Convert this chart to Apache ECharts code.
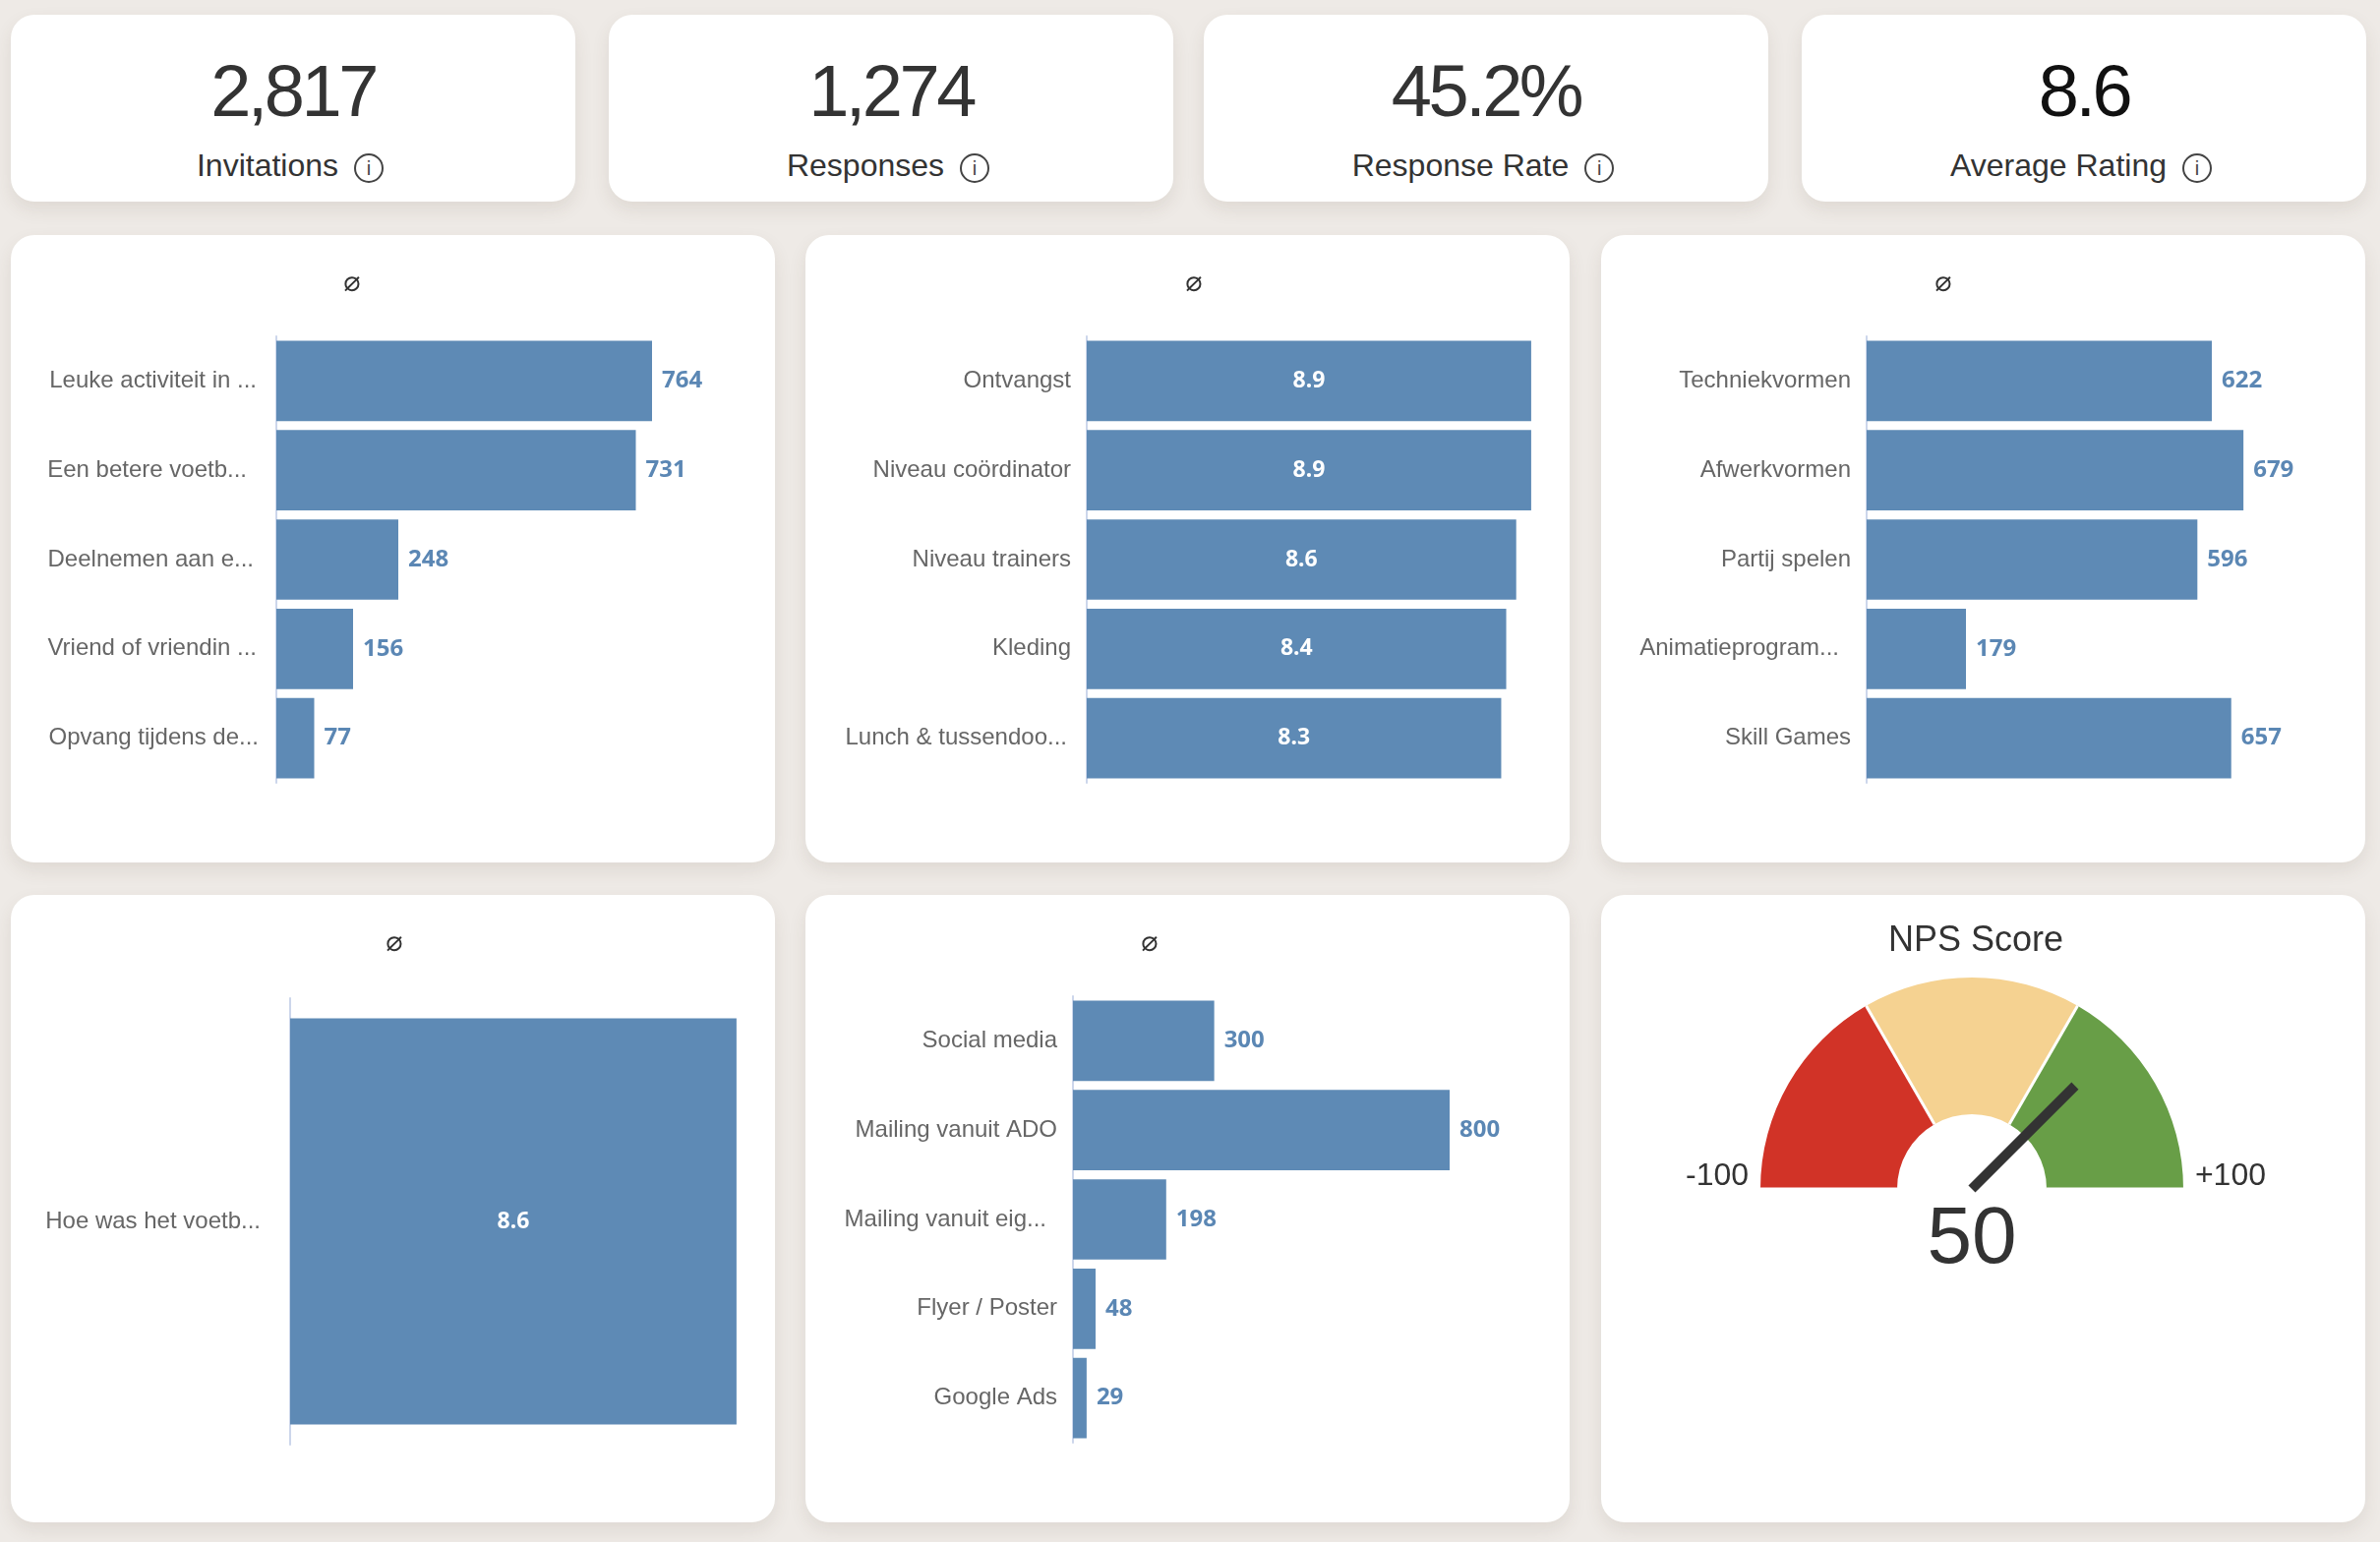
<!DOCTYPE html>
<html>
<head>
<meta charset="utf-8">
<title>Survey dashboard</title>
<script src="https://cdn.jsdelivr.net/npm/echarts@6/dist/echarts.min.js"></script>
<style>
  html, body { margin: 0; padding: 0; }
  body {
    width: 2420px; height: 1568px; position: relative; overflow: hidden;
    background: #eeeae6;
    font-family: "Liberation Sans", Arial, sans-serif;
  }
  .card {
    position: absolute; background: #fff; border-radius: 24px;
    box-shadow: 0 8px 18px rgba(90, 70, 50, .10);
  }
  .kpi { width: 574px; height: 190px; top: 15px; }
  .kpi .num {
    position: absolute; left: 0; right: 0; top: 38px; text-align: center;
    font-size: 74px; line-height: 80px; letter-spacing: -3.5px; color: #333;
  }
  .kpi .lbl {
    position: absolute; left: 0; right: 0; top: 134px; text-align: center;
    font-size: 32px; line-height: 38px; color: #333; padding-right: 6px;
  }
  .kpi .info {
    display: inline-block; width: 26px; height: 26px; border: 2px solid #444;
    border-radius: 50%; font-size: 20px; line-height: 26px; text-align: center;
    vertical-align: 1px; margin-left: 16px; color: #444;
  }
  .panel { width: 777px; height: 638px; }
  .panel .chart { position: absolute; left: 0; top: 0; width: 100%; height: 100%; }
</style>
</head>
<body>
<div id="kpis"></div>
<div class="card panel" style="left:11px;top:239px"><div class="chart" id="c1"></div></div>
<div class="card panel" style="left:819px;top:239px"><div class="chart" id="c2"></div></div>
<div class="card panel" style="left:1628px;top:239px"><div class="chart" id="c3"></div></div>
<div class="card panel" style="left:11px;top:910px"><div class="chart" id="c4"></div></div>
<div class="card panel" style="left:819px;top:910px"><div class="chart" id="c5"></div></div>
<div class="card panel" style="left:1628px;top:910px"><div class="chart" id="c6"></div></div>
<script>
/* ── Data ───────────────────────────────────────────────── */
const kpiLabels = ['Invitations', 'Responses', 'Response Rate', 'Average Rating'];
const kpiValues = ['2,817', '1,274', '45.2%', '8.6'];

const reasonCats = ['Leuke activiteit in ...', 'Een betere voetb...', 'Deelnemen aan e...', 'Vriend of vriendin ...', 'Opvang tijdens de...'];
const reasonVals = [764, 731, 248, 156, 77];

const ratingCats = ['Ontvangst', 'Niveau coördinator', 'Niveau trainers', 'Kleding', 'Lunch & tussendoo...'];
const ratingVals = [8.9, 8.9, 8.6, 8.4, 8.3];

const trainingCats = ['Techniekvormen', 'Afwerkvormen', 'Partij spelen', 'Animatieprogram...', 'Skill Games'];
const trainingVals = [622, 679, 596, 179, 657];

const overallCats = ['Hoe was het voetb...'];
const overallVals = [8.6];

const channelCats = ['Social media', 'Mailing vanuit ADO', 'Mailing vanuit eig...', 'Flyer / Poster', 'Google Ads'];
const channelVals = [300, 800, 198, 48, 29];

const npsValue = 50;
const npsMin = -100;
const npsMax = 100;

/* ── KPI cards ──────────────────────────────────────────── */
(function buildKpis() {
  const wrap = document.getElementById('kpis');
  const lefts = [11, 619, 1224, 1832];
  kpiLabels.forEach((lbl, i) => {
    const c = document.createElement('div');
    c.className = 'card kpi';
    c.style.left = lefts[i] + 'px';
    const num = document.createElement('div');
    num.className = 'num';
    num.textContent = kpiValues[i];
    if (i === 3) num.style.color = '#111';
    const l = document.createElement('div');
    l.className = 'lbl';
    l.innerHTML = lbl + '<span class="info">i</span>';
    c.appendChild(num);
    c.appendChild(l);
    wrap.appendChild(c);
  });
})();

/* ── Horizontal bar panels ──────────────────────────────── */
const BAR = '#5e8ab5';
const LABEL_FONT = '"Noto Sans", "Open Sans", sans-serif';
const TEXT_FONT = '"Liberation Sans", Arial, sans-serif';

function barOption(cats, vals, o) {
  // shortened labels sit a little further from the axis, like the original
  const shift = o.shift || [];
  return {
    animation: false,
    title: {
      text: '\u2300', left: o.titleX, top: 30, textAlign: 'center',
      textStyle: { fontSize: 29, fontWeight: 'normal', color: '#333', fontFamily: 'DejaVu Sans' }
    },
    grid: { left: o.left, top: o.top || 103, width: o.width, height: o.height || 454, containLabel: false },
    xAxis: { type: 'value', min: 0, max: o.max, show: false },
    yAxis: {
      type: 'category',
      data: cats.map((c, i) => ({ value: c, textStyle: { padding: [0, shift[i] || 0, 0, 0] } })),
      inverse: true,
      axisLine: { lineStyle: { color: '#ccd6eb', width: 2 } },
      axisTick: { show: false },
      axisLabel: { margin: 16, color: '#666', fontSize: 24, fontFamily: TEXT_FONT }
    },
    series: [{
      type: 'bar', data: vals,
      barCategoryGap: o.gap || '10%',
      itemStyle: { color: BAR },
      label: o.inside ? {
        show: true, position: 'inside', color: '#fff', fontSize: 23,
        fontWeight: 'bold', fontFamily: LABEL_FONT
      } : {
        show: true, position: 'right', distance: 10, color: '#5b87b4', fontSize: 24,
        fontWeight: 'bold', fontFamily: LABEL_FONT
      }
    }]
  };
}

function mount(id, option) {
  const chart = echarts.init(document.getElementById(id), null, { renderer: 'canvas' });
  chart.setOption(option);
  return chart;
}

mount('c1', barOption(reasonCats, reasonVals, { titleX: 342, left: 270, width: 400, max: 800, shift: [4, 14, 7, 4, 2] }));
mount('c2', barOption(ratingCats, ratingVals, { titleX: 390, left: 286, width: 457, max: 9, inside: true, shift: [0, 0, 0, 0, 4] }));
mount('c3', barOption(trainingCats, trainingVals, { titleX: 343, left: 270, width: 395, max: 700, shift: [0, 0, 0, 12, 0] }));
mount('c4', barOption(overallCats, overallVals, { titleX: 385, left: 284, width: 475, max: 9, top: 105, gap: '9%', inside: true, shift: [14] }));
mount('c5', barOption(channelCats, channelVals, { titleX: 345, left: 272, width: 383, max: 800, shift: [0, 0, 11, 0, 0] }));

/* ── NPS gauge ──────────────────────────────────────────── */
mount('c6', {
  animation: false,
  title: {
    text: 'NPS Score', left: 376, top: 24, textAlign: 'center',
    textStyle: { fontSize: 36, fontWeight: 'normal', color: '#333', fontFamily: TEXT_FONT }
  },
  series: [{
    type: 'gauge',
    center: [377, 299],
    radius: 215,
    startAngle: 180,
    endAngle: 0,
    min: npsMin,
    max: npsMax,
    splitNumber: 3,
    axisLine: {
      lineStyle: {
        width: 139,
        color: [[1 / 3, '#d13327'], [2 / 3, '#f5d291'], [1, '#689e47']]
      }
    },
    splitLine: { show: true, distance: -139, length: 139, lineStyle: { color: '#fff', width: 3 } },
    axisTick: { show: false },
    axisLabel: {
      show: true, distance: -84, color: '#333', fontSize: 32, lineHeight: 26,
      fontFamily: TEXT_FONT,
      // empty second line lifts the end labels a little above the baseline
      formatter: v => (v === npsMin ? '{l|-100}\n ' : v === npsMax ? '+100\n ' : ''),
      rich: {
        l: { fontSize: 32, lineHeight: 26, color: '#333', fontFamily: TEXT_FONT, padding: [0, 0, 0, 8] }
      }
    },
    pointer: {
      show: true, icon: 'rect', length: '69%', width: 10,
      offsetCenter: [0, 0], keepAspect: false,
      itemStyle: { color: '#333' }
    },
    anchor: { show: false },
    title: { show: false },
    detail: {
      show: true, offsetCenter: [0, 52], fontSize: 82, fontWeight: 'normal',
      color: '#333', fontFamily: TEXT_FONT,
      formatter: '{value}'
    },
    data: [{ value: npsValue }]
  }]
});
</script>
</body>
</html>
